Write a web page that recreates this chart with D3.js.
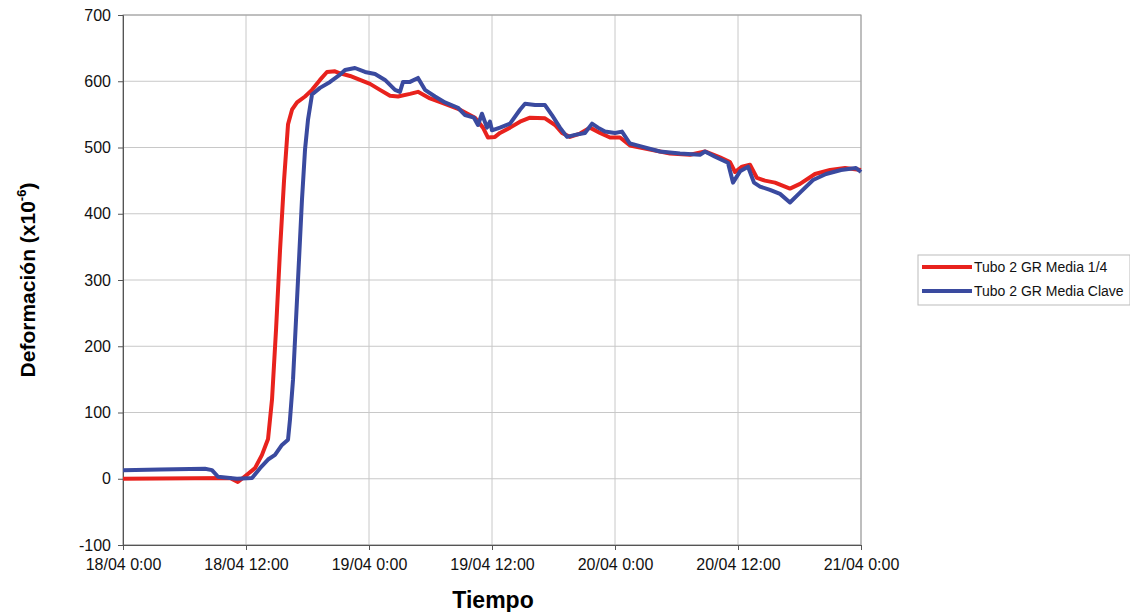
<!DOCTYPE html>
<html>
<head>
<meta charset="utf-8">
<script src="https://cdn.jsdelivr.net/npm/d3@7"></script>
<style>
  body { margin: 0; background: #fff; }
  svg { font-family: "Liberation Sans", Arial, sans-serif; }
</style>
</head>
<body>
<svg id="chart" width="1130" height="612"></svg>
<script>
// hours since 18/04 0:00, deformation value
var red = [[0,0],[10.44,1],[11.2,-5],[12,5],[12.88,16],[13.56,36],[14.15,60],[14.54,120],[14.93,225],
  [15.32,345],[15.71,450],[16.1,535],[16.49,557],[16.98,568],[17.76,577],[18.44,587],[19.22,602],
  [19.9,614],[20.68,615],[21.17,612],[22.15,608],[23.12,602],[24.1,596],[25.07,587],[26.05,578],
  [26.83,577],[28,581],[28.78,584],[29.95,574],[31.41,566],[32.88,557],[34.34,545],[35.12,530],
  [35.61,515],[36.29,516],[36.78,522],[37.76,530],[38.73,539],[39.71,545],[41.17,544],[42.15,534],
  [42.83,522],[43.61,516],[44.59,521],[45.56,530],[46.54,522],[47.51,515],[48.49,515],[49.46,503],
  [51.41,497],[53.37,491],[55.32,489],[56.78,494],[58.24,485],[59.22,478],[59.71,463],[60.39,471],
  [61.17,474],[61.85,454],[62.63,450],[63.61,447],[65.07,438],[66.05,445],[67.51,460],[68.98,466],
  [70.44,469],[72,466]]

var blue = [[0,13],[3.61,14],[8,15],[8.68,13],[9.27,3],[11.12,0],[12.59,1],[13.37,16],[14.15,29],
  [14.83,36],[15.51,51],[16.1,59],[16.29,89],[16.59,150],[16.88,240],[17.17,330],[17.46,421],
  [17.76,497],[18.05,542],[18.44,580],[19.22,590],[20.2,599],[21.17,610],[21.66,617],[22.63,620],
  [23.61,614],[24.59,611],[25.56,602],[26.54,587],[27.02,584],[27.32,599],[28,599],[28.78,605],
  [29.46,587],[30.44,577],[31.41,568],[32.68,560],[33.37,549],[34.24,545],[34.63,534],[35.02,551],
  [35.51,530],[35.8,539],[36,526],[36.78,530],[37.76,536],[38.73,557],[39.22,566],[40.2,564],
  [41.17,564],[41.85,549],[42.63,530],[43.32,516],[44.1,519],[45.07,522],[45.76,536],[46.34,530],
  [47.02,524],[48,522],[48.68,524],[49.46,506],[50.44,502],[52.39,494],[54.34,491],[56.29,489],
  [56.78,494],[57.76,486],[59.02,477],[59.51,447],[60.2,464],[60.98,471],[61.56,447],[62.15,441],
  [63.12,436],[64.1,430],[65.07,417],[66.05,432],[67.32,451],[68.59,460],[70.05,466],[71.51,469],
  [72,463]]

var seriesNames = ["Tubo 2 GR Media 1/4", "Tubo 2 GR Media Clave"]
var seriesColors = ["#e8221d", "#3a4a9f"]
var yTicks = [-100, 0, 100, 200, 300, 400, 500, 600, 700]
var xTickHours = [0, 12, 24, 36, 48, 60, 72]

var start = new Date(2008, 3, 18, 0, 0)
function toDate(h) { return new Date(start.getTime() + h * 3600000) }

var svg = d3.select("#chart")
var pLeft = 123, pRight = 861, pTop = 15, pBottom = 545

var x = d3.scaleTime()
  .domain([toDate(0), toDate(72)])
  .range([pLeft, pRight])
var y = d3.scaleLinear()
  .domain([-100, 700])
  .range([pBottom, pTop])

// grid
svg.append("g").selectAll("line")
  .data(yTicks)
  .enter().append("line")
  .attr("x1", pLeft).attr("x2", pRight)
  .attr("y1", d => y(d)).attr("y2", d => y(d))
  .attr("stroke", "#c8c8c8").attr("stroke-width", 1)
svg.append("g").selectAll("line")
  .data(xTickHours)
  .enter().append("line")
  .attr("x1", d => x(toDate(d))).attr("x2", d => x(toDate(d)))
  .attr("y1", pTop).attr("y2", pBottom)
  .attr("stroke", "#c8c8c8").attr("stroke-width", 1)

// plot border
svg.append("rect")
  .attr("x", pLeft).attr("y", pTop)
  .attr("width", pRight - pLeft).attr("height", pBottom - pTop)
  .attr("fill", "none").attr("stroke", "#999").attr("stroke-width", 1)

// axes
var fmt = d3.timeFormat("%d/%m %-H:%M")
var xAxis = d3.axisBottom(x)
  .tickValues(xTickHours.map(toDate))
  .tickFormat(fmt)
  .tickSize(5).tickPadding(9)
var yAxis = d3.axisLeft(y)
  .tickValues(yTicks)
  .tickFormat(d => String(d))
  .tickSize(5).tickPadding(7)

var gx = svg.append("g").attr("transform", "translate(0," + pBottom + ")").call(xAxis)
var gy = svg.append("g").attr("transform", "translate(" + pLeft + ",0)").call(yAxis)
;[gx, gy].forEach(function(g) {
  g.select(".domain").attr("stroke", "#555")
  g.selectAll(".tick line").attr("stroke", "#555")
  g.selectAll("text").attr("font-size", 16).attr("fill", "#111")
    .attr("font-family", "Liberation Sans, Arial, sans-serif")
})

// lines
var line = d3.line()
  .x(d => x(toDate(d[0])))
  .y(d => y(d[1]))
  .curve(d3.curveLinear)

;[red, blue].forEach(function(s, i) {
  svg.append("path")
    .datum(s)
    .attr("d", line)
    .attr("fill", "none")
    .attr("stroke", seriesColors[i])
    .attr("stroke-width", 4)
    .attr("stroke-linejoin", "round")
})

// axis titles
svg.append("text")
  .attr("x", 493).attr("y", 608)
  .attr("text-anchor", "middle")
  .attr("font-size", 23).attr("font-weight", "bold")
  .text("Tiempo")

var yt = svg.append("text")
  .attr("transform", "translate(35,280) rotate(-90)")
  .attr("text-anchor", "middle")
  .attr("font-size", 21).attr("font-weight", "bold")
yt.append("tspan").text("Deformación (x10")
yt.append("tspan").attr("font-size", 13).attr("dy", -9).text("-6")
yt.append("tspan").attr("dy", 9).text(")")

// legend
var lg = svg.append("g").attr("transform", "translate(918,255)")
lg.append("rect")
  .attr("width", 212).attr("height", 50)
  .attr("fill", "#fff").attr("stroke", "#bbb")
seriesNames.forEach(function(name, i) {
  var yy = 12 + i * 24
  lg.append("line")
    .attr("x1", 4).attr("x2", 54)
    .attr("y1", yy).attr("y2", yy)
    .attr("stroke", seriesColors[i]).attr("stroke-width", 4)
  lg.append("text")
    .attr("x", 56).attr("y", yy + 5)
    .attr("font-size", 14).attr("fill", "#111")
    .text(name)
})
</script>
</body>
</html>
